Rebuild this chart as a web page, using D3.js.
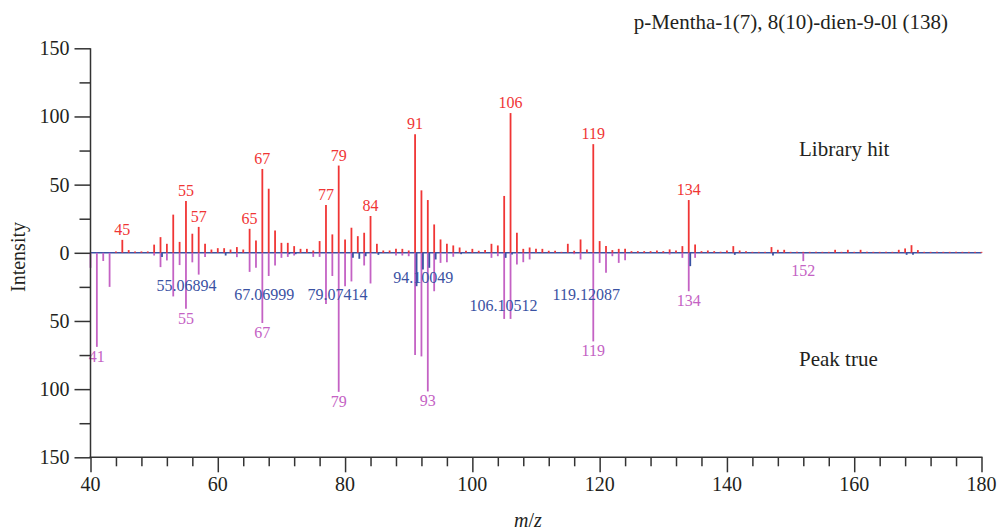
<!DOCTYPE html>
<html><head><meta charset="utf-8">
<script src="https://cdn.jsdelivr.net/npm/d3@7"></script>
<style>body{margin:0;background:#fff;}svg{display:block;}</style>
</head><body>
<script>
// ---- data ----
const title = "p-Mentha-1(7), 8(10)-dien-9-0l (138)";
const xTicks = [40, 60, 80, 100, 120, 140, 160, 180];
const yTicks = [-150, -100, -50, 0, 50, 100, 150];
// Library hit (upward, red): [m/z, intensity]
const libraryHit = [
 [44,1],[45,9.5],[46,2],[47,1],[48,1],[49,1],[50,6],[51,11.5],[52,6.6],[53,28],[54,8],[55,38],[56,14],[57,19],[58,6.6],[59,2.4],
 [60,3.4],[61,3.4],[62,2.4],[63,4.2],[64,2.4],[65,17.6],[66,9],[67,61.5],[68,47],[69,16.4],[70,7.3],[71,7.3],[72,4.9],[73,2.9],[74,2.9],
 [75,1.7],[76,8.6],[77,35],[78,13.5],[79,64],[80,9.8],[81,18.4],[82,12.2],[83,14.7],[84,27],[85,6.6],[86,1.7],[87,1.7],[88,2.9],[89,2.9],
 [90,1.7],[91,87],[92,45.8],[93,38.7],[94,20.8],[95,9.8],[96,6.6],[97,5.4],[98,3.9],[99,1.5],[100,2.9],[101,1.5],[102,2],[103,6.6],[104,5.4],
 [105,41.7],[106,102.5],[107,14.7],[108,2.9],[109,3.9],[110,2.9],[111,2.9],[112,1.5],[113,1.5],[114,0.7],[115,6.6],[116,1.5],[117,9.8],[118,2.5],
 [119,79.7],[120,8.6],[121,4.9],[122,2],[123,2.9],[124,2.9],[125,1.2],[126,1.2],[127,1.2],[128,1.2],[129,1.7],[130,1.2],[131,2.5],[132,1.7],
 [133,4.9],[134,38.7],[135,6.1],[136,1.2],[137,1.7],[138,1.2],[139,0.8],[140,1.7],[141,4.9],[142,1.7],[143,1.2],[144,0.7],[145,0.7],[146,0.7],
 [147,4.2],[148,2.2],[149,2.2],[150,0.7],[151,0.7],[152,0.7],[153,0.7],[154,0.7],[155,0.7],[156,0.7],[157,2.2],[158,0.7],[159,2.2],[160,0.7],
 [161,2.2],[162,0.7],[163,0.7],[164,0.7],[165,0.7],[166,0.7],[167,2.2],[168,3.2],[169,5.6],[170,2],[171,0.7],[172,0.7],[173,0.7],[174,0.7],
 [175,0.7],[176,0.7],[177,0.7],[178,0.7],[179,0.7],[180,0.7]
];
// Peak true (downward, magenta): [m/z, intensity]
const peakTrue = [
 [40,11],[41,69],[42,6],[43,25],[50,2],[51,10.5],[52,5.6],[53,32],[54,9],[55,41],[56,7],[57,16],[58,3],[63,3.2],[65,14],[66,11],
 [67,51.5],[68,17],[69,9.3],[70,3.7],[71,3],[72,2],[75,3],[76,3],[77,37.5],[78,17],[79,102],[80,24.5],[81,21],[83,9.3],[84,22.5],
 [88,2],[89,2],[90,2.5],[91,75],[92,76],[93,101.7],[94,28.2],[95,7.4],[96,6.9],[97,2.9],[103,3.7],[104,2.5],[105,48.5],[106,48.5],
 [107,8.6],[108,6.9],[109,4.9],[116,1],[117,4.9],[119,65],[120,7.4],[121,14.7],[122,2.5],[123,7.4],[124,5.4],[131,1.2],[133,3.7],
 [134,28.2],[135,3.7],[152,6.1]
];
// Exact-mass peaks (downward, blue): [m/z, intensity]
const exactPeaks = [
 [51,3],[61,2],[71,1],[72,1],[81,3.7],[82,4.4],[83,2.5],[85,1.5],[91,24.5],[92,12.3],[93,11],[94,4.9],[98,1],[105,3.7],[106,1.2],
 [134,9.8],[141,1.5],[147,2],[168,1.5],[169,1.5]
];
const libraryLabels = [45,55,57,65,67,77,79,84,91,106,119,134];
const peakTrueLabels = [41,55,67,79,93,119,134,152];
const exactLabels = ["55.06894","67.06999","79.07414","94.10049","106.10512","119.12087"];

// ---- layout (not data) ----
const exactLabelPos = [[55.1,-23.8],[67.3,-30.3],[78.8,-30.3],[92.3,-17.9],[104.9,-38.5],[117.9,-30.9]];
const W = 998, H = 531;
const x0 = 90.5, x1 = 981.5, yTop = 48.3, yBot = 457.3;
const RED = "#f03535", MAG = "#c462c4", BLUE = "#3a52a3", AX = "#333", TXT = "#231f20";
const FONT = "'Liberation Serif', 'DejaVu Serif', serif";

const svg = d3.select("body").append("svg").attr("width", W).attr("height", H);
const x = d3.scaleLinear().domain([40, 180]).range([x0, x1]);
const y = d3.scaleLinear().domain([-150, 150]).range([yBot, yTop]);

// baseline
svg.append("line").attr("x1", x0).attr("x2", x1).attr("y1", y(0)).attr("y2", y(0))
  .attr("stroke", BLUE).attr("stroke-width", 1.6);

// peaks
svg.append("g").selectAll("line").data(peakTrue).join("line")
  .attr("x1", d => x(d[0])).attr("x2", d => x(d[0]))
  .attr("y1", y(0)).attr("y2", d => y(-d[1]))
  .attr("stroke", MAG).attr("stroke-width", 1.8);
svg.append("g").selectAll("line").data(exactPeaks).join("line")
  .attr("x1", d => x(d[0]) + 1.5).attr("x2", d => x(d[0]) + 1.5)
  .attr("y1", y(0)).attr("y2", d => y(-d[1]))
  .attr("stroke", BLUE).attr("stroke-width", 1.8);
svg.append("g").selectAll("line").data(libraryHit).join("line")
  .attr("x1", d => x(d[0])).attr("x2", d => x(d[0]))
  .attr("y1", y(0)).attr("y2", d => y(d[1]))
  .attr("stroke", RED).attr("stroke-width", 1.8);

// labels
const libMap = new Map(libraryHit), ptMap = new Map(peakTrue);
svg.append("g").selectAll("text").data(libraryLabels).join("text")
  .attr("x", d => x(d)).attr("y", d => y(libMap.get(d)) - 5)
  .attr("text-anchor", "middle").attr("font-family", FONT).attr("font-size", 16).attr("fill", RED).text(d => d);
svg.append("g").selectAll("text").data(peakTrueLabels).join("text")
  .attr("x", d => x(d)).attr("y", d => y(-ptMap.get(d)) + 15)
  .attr("text-anchor", "middle").attr("font-family", FONT).attr("font-size", 16).attr("fill", MAG).text(d => d);
svg.append("g").selectAll("text").data(exactLabels).join("text")
  .attr("x", (d, i) => x(exactLabelPos[i][0])).attr("y", (d, i) => y(exactLabelPos[i][1]) + 5.5)
  .attr("text-anchor", "middle").attr("font-family", FONT).attr("font-size", 16).attr("fill", BLUE).text(d => d);

// axes
const yAxisG = svg.append("g").attr("transform", `translate(${x0},0)`);
yAxisG.call(d3.axisLeft(y).tickValues(d3.range(-150, 151, 25)).tickSize(11).tickFormat(""));
yAxisG.selectAll(".tick line").filter(d => d % 50 === 0).attr("x2", -16);
yAxisG.select(".domain").remove();
yAxisG.append("line").attr("y1", yTop).attr("y2", yBot + 1).attr("stroke", AX).attr("stroke-width", 1.5);
yAxisG.selectAll(".tick line").attr("stroke", AX).attr("stroke-width", 1.5);
yAxisG.selectAll(".ylab").data(yTicks).join("text").attr("class", "ylab")
  .attr("x", -21).attr("y", d => y(d) + 7).attr("text-anchor", "end")
  .attr("font-family", FONT).attr("font-size", 20).attr("fill", TXT).text(d => Math.abs(d));

const xAxisG = svg.append("g").attr("transform", `translate(0,${yBot})`);
xAxisG.call(d3.axisBottom(x).tickValues(d3.range(40, 181, 4)).tickSize(9).tickFormat(""));
xAxisG.selectAll(".tick line").filter(d => d % 20 === 0).attr("y2", 15);
xAxisG.select(".domain").remove();
xAxisG.append("line").attr("x1", x0 - 1).attr("x2", x1 + 1).attr("stroke", AX).attr("stroke-width", 1.5);
xAxisG.selectAll(".tick line").attr("stroke", AX).attr("stroke-width", 1.5);
xAxisG.selectAll(".xlab").data(xTicks).join("text").attr("class", "xlab")
  .attr("x", d => x(d)).attr("y", 34).attr("text-anchor", "middle")
  .attr("font-family", FONT).attr("font-size", 20).attr("fill", TXT).text(d => d);

// axis titles
svg.append("text").attr("transform", `translate(25,257) rotate(-90)`)
  .attr("text-anchor", "middle").attr("font-family", FONT).attr("font-size", 20).attr("fill", TXT).text("Intensity");
const mz = svg.append("text").attr("x", 528).attr("y", 527).attr("text-anchor", "middle")
  .attr("font-family", FONT).attr("font-size", 20).attr("fill", TXT).attr("font-style", "italic");
mz.append("tspan").text("m");
mz.append("tspan").attr("font-style", "normal").text("/");
mz.append("tspan").text("z");

// annotations
svg.append("text").attr("x", 948).attr("y", 29).attr("text-anchor", "end")
  .attr("font-family", FONT).attr("font-size", 21).attr("fill", TXT).text(title);
svg.append("text").attr("x", 799).attr("y", 156).attr("font-family", FONT).attr("font-size", 21).attr("fill", TXT).text("Library hit");
svg.append("text").attr("x", 799).attr("y", 366).attr("font-family", FONT).attr("font-size", 21).attr("fill", TXT).text("Peak true");
</script>
</body></html>
